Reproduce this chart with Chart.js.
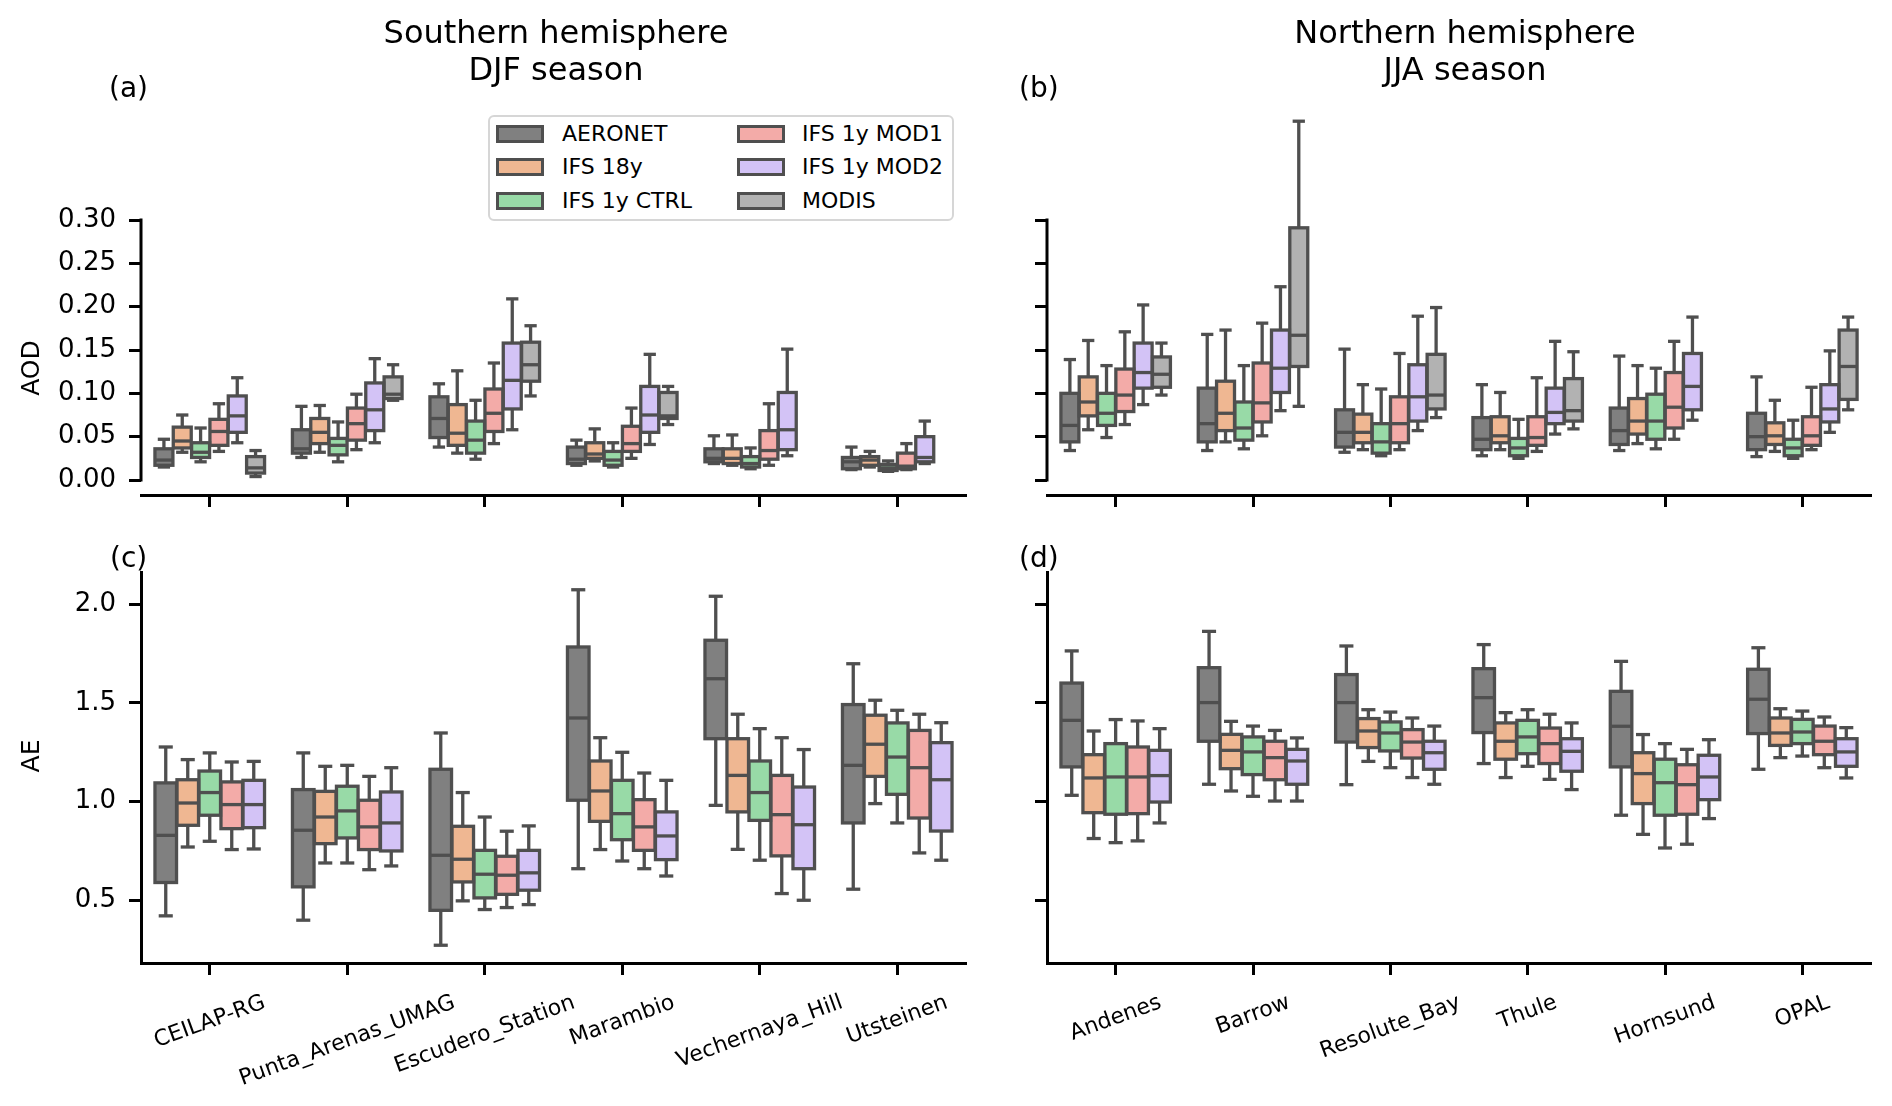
<!DOCTYPE html>
<html>
<head>
<meta charset="utf-8">
<script src="https://cdn.jsdelivr.net/npm/chart.js@4.4.1/dist/chart.umd.min.js"></script>
<style>
html,body{margin:0;padding:0;background:#fff;}
#fig{position:relative;width:1892px;height:1106px;overflow:hidden;font-family:"DejaVu Sans",sans-serif;color:#000;background:#fff;}
canvas.cv{position:absolute;}
.t{position:absolute;white-space:nowrap;line-height:1;}
.title{font-size:32px;text-align:center;line-height:37px;transform:translateX(-50%);}
.plab{font-size:28px;transform:translateY(-50%);}
.ylab{font-size:25px;transform:translate(-50%,-50%) rotate(-90deg);}
#legend{position:absolute;left:488px;top:115px;width:466px;height:106px;box-sizing:border-box;border:2px solid #d6d6d6;border-radius:6px;background:#fff;}
.lp{position:absolute;width:48px;height:18px;box-sizing:border-box;border:3px solid #4f4f4f;}
.lt{position:absolute;font-size:22px;line-height:1;white-space:nowrap;transform:translateY(-50%);}
</style>
</head>
<body>
<div id="fig">
  <canvas id="ca" class="cv" width="1000" height="540" style="left:0;top:0;width:1000px;height:540px"></canvas>
  <canvas id="cb" class="cv" width="892" height="540" style="left:1000px;top:0;width:892px;height:540px"></canvas>
  <canvas id="cc" class="cv" width="1000" height="566" style="left:0;top:540px;width:1000px;height:566px"></canvas>
  <canvas id="cd" class="cv" width="892" height="566" style="left:1000px;top:540px;width:892px;height:566px"></canvas>
  <div class="t title" style="left:556px;top:14px">Southern hemisphere<br>DJF season</div>
  <div class="t title" style="left:1465px;top:14px">Northern hemisphere<br>JJA season</div>
  <div class="t plab" style="left:109px;top:88px">(a)</div>
  <div class="t plab" style="left:1019px;top:88px">(b)</div>
  <div class="t plab" style="left:110px;top:558px">(c)</div>
  <div class="t plab" style="left:1019px;top:558px">(d)</div>
  <div class="t ylab" style="left:30px;top:368px">AOD</div>
  <div class="t ylab" style="left:30px;top:756px">AE</div>
  <div id="legend"></div>
</div>
<script>
// ---------------- categories / labels ----------------
const stationsSouth = ["CEILAP-RG", "Punta_Arenas_UMAG", "Escudero_Station", "Marambio", "Vechernaya_Hill", "Utsteinen"];
const stationsNorth = ["Andenes", "Barrow", "Resolute_Bay", "Thule", "Hornsund", "OPAL"];
const seriesNames = ["AERONET", "IFS 18y", "IFS 1y CTRL", "IFS 1y MOD1", "IFS 1y MOD2", "MODIS"];
const seriesColors = ["#808080", "#efb792", "#98daa7", "#f3aba8", "#d3c3f6", "#b2b2b2"];
const aodTicks = [0.00, 0.05, 0.10, 0.15, 0.20, 0.25, 0.30];
const aeTicks = [0.5, 1.0, 1.5, 2.0];

// each entry: [lower whisker, Q1, median, Q3, upper whisker]
// ---- (a) AOD, southern hemisphere, DJF ----
const aodSouthAERONET = [[0.015,0.017,0.023,0.036,0.047],[0.026,0.031,0.036,0.058,0.085],[0.038,0.049,0.071,0.096,0.111],[0.017,0.019,0.024,0.038,0.046],[0.019,0.021,0.025,0.036,0.051],[0.012,0.013,0.021,0.026,0.038]];
const aodSouthIFS18y = [[0.032,0.037,0.045,0.061,0.075],[0.032,0.042,0.055,0.071,0.086],[0.031,0.040,0.054,0.087,0.126],[0.022,0.025,0.030,0.043,0.059],[0.017,0.019,0.025,0.036,0.052],[0.015,0.017,0.023,0.027,0.033]];
const aodSouthCTRL = [[0.021,0.026,0.032,0.043,0.060],[0.021,0.029,0.040,0.048,0.067],[0.024,0.031,0.046,0.068,0.092],[0.015,0.017,0.023,0.033,0.043],[0.013,0.015,0.019,0.027,0.037],[0.010,0.011,0.014,0.018,0.022]];
const aodSouthMOD1 = [[0.033,0.040,0.056,0.070,0.088],[0.035,0.046,0.065,0.083,0.099],[0.042,0.056,0.077,0.105,0.135],[0.025,0.033,0.042,0.062,0.083],[0.017,0.024,0.034,0.057,0.088],[0.012,0.013,0.016,0.031,0.042]];
const aodSouthMOD2 = [[0.043,0.055,0.074,0.097,0.118],[0.043,0.057,0.081,0.112,0.140],[0.058,0.082,0.115,0.158,0.209],[0.041,0.055,0.075,0.108,0.145],[0.028,0.035,0.058,0.101,0.151],[0.019,0.021,0.026,0.050,0.068]];
const aodSouthMODIS = [[0.004,0.008,0.014,0.027,0.034],[0.092,0.094,0.099,0.119,0.133],[0.097,0.114,0.133,0.159,0.178],[0.064,0.071,0.074,0.101,0.108],null,null];

// ---- (b) AOD, northern hemisphere, JJA ----
const aodNorthAERONET = [[0.034,0.044,0.063,0.100,0.139],[0.034,0.044,0.065,0.106,0.168],[0.032,0.038,0.055,0.081,0.151],[0.028,0.035,0.047,0.072,0.110],[0.034,0.041,0.057,0.083,0.143],[0.027,0.035,0.050,0.077,0.119]];
const aodNorthIFS18y = [[0.058,0.074,0.090,0.119,0.161],[0.044,0.057,0.077,0.114,0.173],[0.035,0.043,0.055,0.076,0.110],[0.035,0.043,0.051,0.073,0.101],[0.042,0.053,0.068,0.094,0.132],[0.033,0.041,0.051,0.066,0.092]];
const aodNorthCTRL = [[0.049,0.063,0.077,0.100,0.132],[0.036,0.046,0.060,0.090,0.132],[0.028,0.031,0.044,0.065,0.105],[0.025,0.028,0.037,0.048,0.070],[0.036,0.047,0.068,0.099,0.129],[0.025,0.028,0.037,0.047,0.069]];
const aodNorthMOD1 = [[0.064,0.079,0.098,0.128,0.171],[0.051,0.067,0.089,0.135,0.181],[0.035,0.043,0.065,0.096,0.146],[0.033,0.040,0.049,0.073,0.118],[0.047,0.060,0.084,0.124,0.160],[0.035,0.040,0.051,0.073,0.107]];
const aodNorthMOD2 = [[0.087,0.106,0.124,0.158,0.202],[0.080,0.101,0.129,0.173,0.223],[0.057,0.068,0.096,0.133,0.189],[0.053,0.065,0.078,0.106,0.160],[0.069,0.081,0.108,0.146,0.188],[0.055,0.067,0.082,0.110,0.149]];
const aodNorthMODIS = [[0.098,0.107,0.122,0.142,0.158],[0.085,0.131,0.167,0.291,0.414],[0.072,0.082,0.098,0.145,0.199],[0.059,0.068,0.080,0.117,0.148],null,[0.081,0.093,0.131,0.173,0.188]];

// ---- (c) AE, southern hemisphere, DJF ----
const aeSouthAERONET = [[0.421,0.590,0.829,1.095,1.277],[0.399,0.568,0.855,1.061,1.247],[0.272,0.449,0.728,1.164,1.348],[0.660,1.007,1.424,1.784,2.074],[0.981,1.319,1.623,1.818,2.041],[0.556,0.892,1.184,1.492,1.699]];
const aeSouthIFS18y = [[0.770,0.880,0.993,1.111,1.213],[0.689,0.787,0.922,1.052,1.179],[0.497,0.593,0.708,0.875,1.046],[0.757,0.900,1.054,1.206,1.324],[0.758,0.948,1.133,1.319,1.443],[0.990,1.128,1.291,1.438,1.514]];
const aeSouthCTRL = [[0.799,0.931,1.046,1.155,1.247],[0.689,0.816,0.953,1.078,1.184],[0.453,0.512,0.632,0.753,0.922],[0.699,0.807,0.939,1.108,1.250],[0.703,0.905,1.046,1.206,1.370],[0.892,1.037,1.226,1.399,1.463]];
const aeSouthMOD1 = [[0.757,0.863,0.985,1.100,1.201],[0.655,0.757,0.872,1.007,1.128],[0.463,0.530,0.627,0.723,0.850],[0.660,0.753,0.872,1.010,1.145],[0.534,0.725,0.934,1.133,1.324],[0.740,0.917,1.172,1.361,1.443]];
const aeSouthMOD2 = [[0.760,0.868,0.985,1.108,1.204],[0.674,0.750,0.892,1.049,1.172],[0.478,0.551,0.639,0.753,0.877],[0.623,0.706,0.826,0.948,1.108],[0.500,0.660,0.883,1.074,1.264],[0.703,0.851,1.111,1.299,1.400]];

// ---- (d) AE, northern hemisphere, JJA ----
const aeNorthAERONET = [[1.032,1.176,1.412,1.601,1.764],[1.088,1.306,1.502,1.679,1.863],[1.086,1.302,1.502,1.644,1.789],[1.193,1.350,1.527,1.674,1.796],[0.931,1.176,1.382,1.559,1.711],[1.164,1.345,1.519,1.671,1.780]];
const aeNorthIFS18y = [[0.813,0.944,1.120,1.238,1.358],[1.054,1.167,1.260,1.341,1.407],[1.204,1.274,1.358,1.421,1.466],[1.122,1.215,1.306,1.399,1.451],[0.834,0.990,1.142,1.248,1.340],[1.223,1.285,1.348,1.424,1.471]];
const aeNorthCTRL = [[0.792,0.936,1.125,1.294,1.416],[1.027,1.137,1.252,1.328,1.383],[1.172,1.257,1.348,1.404,1.454],[1.179,1.243,1.328,1.412,1.466],[0.765,0.931,1.096,1.215,1.294],[1.231,1.294,1.353,1.417,1.459]];
const aeNorthMOD1 = [[0.801,0.939,1.125,1.277,1.409],[1.003,1.111,1.223,1.306,1.361],[1.122,1.221,1.302,1.365,1.424],[1.113,1.193,1.294,1.373,1.443],[0.784,0.936,1.086,1.187,1.265],[1.172,1.238,1.306,1.383,1.429]];
const aeNorthMOD2 = [[0.892,0.998,1.132,1.260,1.370],[1.003,1.088,1.206,1.265,1.323],[1.088,1.164,1.248,1.306,1.383],[1.061,1.154,1.255,1.319,1.399],[0.914,1.010,1.125,1.235,1.314],[1.120,1.179,1.252,1.319,1.375]];

// ---------------- drawing helpers ----------------
const EDGE = "#4f4f4f";
const FONT = '"DejaVu Sans", sans-serif';

const boxPlugin = {
  id: 'boxWhiskers',
  afterDatasetsDraw(chart) {
    const ctx = chart.ctx;
    const ys = chart.scales.y;
    const seg = (x1, y1, x2, y2) => { ctx.beginPath(); ctx.moveTo(x1, y1); ctx.lineTo(x2, y2); ctx.stroke(); };
    chart.data.datasets.forEach((ds, di) => {
      const meta = chart.getDatasetMeta(di);
      meta.data.forEach((bar, i) => {
        const st = ds.stats[i];
        if (!st) return;
        const p = bar.getProps(['x', 'width'], true);
        const x = p.x, w = p.width, h = w / 2;
        const lo = ys.getPixelForValue(st[0]);
        const q1 = ys.getPixelForValue(st[1]);
        const md = ys.getPixelForValue(st[2]);
        const q3 = ys.getPixelForValue(st[3]);
        const hi = ys.getPixelForValue(st[4]);
        ctx.save();
        ctx.strokeStyle = EDGE;
        ctx.lineWidth = 3.3;
        ctx.lineCap = 'butt';
        seg(x, q3, x, hi);
        seg(x, q1, x, lo);
        ctx.lineCap = 'square';
        seg(x - h / 2, hi, x + h / 2, hi);
        seg(x - h / 2, lo, x + h / 2, lo);
        ctx.lineCap = 'butt';
        ctx.lineJoin = 'miter';
        ctx.strokeRect(x - h, q3, w, q1 - q3);
        seg(x - h, md, x + h, md);
        ctx.restore();
      });
    });
  }
};

const trimSpinePlugin = {
  id: 'trimSpine',
  afterDraw(chart, args, opts) {
    if (!opts || !opts.show) return;
    const ctx = chart.ctx, ys = chart.scales.y;
    const x = chart.chartArea.left;
    const y0 = ys.getPixelForValue(opts.from), y1 = ys.getPixelForValue(opts.to);
    ctx.save();
    ctx.strokeStyle = '#000';
    ctx.lineWidth = 3;
    ctx.lineCap = 'square';
    ctx.beginPath(); ctx.moveTo(x, y0); ctx.lineTo(x, y1); ctx.stroke();
    ctx.restore();
  }
};

const rotLabelPlugin = {
  id: 'rotLabels',
  afterDraw(chart, args, opts) {
    if (!opts || !opts.show) return;
    const ctx = chart.ctx, xs = chart.scales.x;
    const th = opts.angle * Math.PI / 180;
    const size = opts.size;
    ctx.save();
    ctx.font = size + 'px ' + FONT;
    ctx.fillStyle = '#000';
    ctx.textAlign = 'center';
    ctx.textBaseline = 'middle';
    chart.data.labels.forEach((lab, i) => {
      const x = xs.getPixelForTick(i);
      const w = ctx.measureText(lab).width;
      const hgt = size * 1.16;
      const H = w * Math.sin(th) + hgt * Math.cos(th);
      const cy = chart.chartArea.bottom + opts.gap + H / 2;
      ctx.save();
      ctx.translate(x, cy);
      ctx.rotate(-th);
      ctx.fillText(lab, 0, 0);
      ctx.restore();
    });
    ctx.restore();
  }
};

function makePanel(canvasId, stations, seriesList, cfg) {
  const datasets = seriesList.map((s, i) => ({
    label: seriesNames[i],
    data: s.map(v => v ? [v[1], v[3]] : null),
    stats: s,
    backgroundColor: seriesColors[i],
    borderWidth: 0,
    categoryPercentage: 0.8,
    barPercentage: 0.98
  }));
  return new Chart(document.getElementById(canvasId), {
    type: 'bar',
    data: { labels: stations, datasets },
    options: {
      responsive: false,
      animation: false,
      devicePixelRatio: 1,
      layout: { padding: { left: 0, right: cfg.padRight, top: cfg.padTop, bottom: 0 } },
      plugins: {
        legend: { display: false },
        tooltip: { enabled: false },
        trimSpine: { show: !cfg.fullSpine, from: cfg.yticks[0], to: cfg.yticks[cfg.yticks.length - 1] },
        rotLabels: { show: cfg.xLabels, angle: 20, size: 22, gap: 27 }
      },
      scales: {
        x: {
          type: 'category',
          offset: true,
          grid: { offset: false, drawOnChartArea: false, drawTicks: true, tickLength: 12, tickWidth: 3, tickColor: '#000' },
          border: { display: true, width: 3, color: '#000' },
          ticks: { display: false },
          afterFit(s) { s.height = cfg.xH; }
        },
        y: {
          type: 'linear',
          min: cfg.ymin,
          max: cfg.ymax,
          afterBuildTicks(s) { s.ticks = cfg.yticks.map(v => ({ value: v })); },
          grid: { drawOnChartArea: false, drawTicks: true, tickLength: 12, tickWidth: 3, tickColor: '#000' },
          border: { display: cfg.fullSpine, width: 3, color: '#000' },
          ticks: {
            display: cfg.yLabels,
            color: '#000',
            padding: 13,
            font: { family: FONT, size: 26 },
            callback: v => Number(v).toFixed(cfg.dec)
          },
          afterFit(s) { s.width = cfg.yW; }
        }
      }
    },
    plugins: [boxPlugin, trimSpinePlugin, rotLabelPlugin]
  });
}

makePanel('ca', stationsSouth,
  [aodSouthAERONET, aodSouthIFS18y, aodSouthCTRL, aodSouthMOD1, aodSouthMOD2, aodSouthMODIS],
  { yW: 141, padRight: 34, padTop: 103, xH: 45, ymin: -0.0173, ymax: 0.435, yticks: aodTicks, dec: 2, yLabels: true, fullSpine: false, xLabels: false });

makePanel('cb', stationsNorth,
  [aodNorthAERONET, aodNorthIFS18y, aodNorthCTRL, aodNorthMOD1, aodNorthMOD2, aodNorthMODIS],
  { yW: 47, padRight: 21, padTop: 103, xH: 45, ymin: -0.0173, ymax: 0.435, yticks: aodTicks, dec: 2, yLabels: false, fullSpine: false, xLabels: false });

makePanel('cc', stationsSouth,
  [aeSouthAERONET, aeSouthIFS18y, aeSouthCTRL, aeSouthMOD1, aeSouthMOD2],
  { yW: 141, padRight: 34, padTop: 32, xH: 143, ymin: 0.182, ymax: 2.164, yticks: aeTicks, dec: 1, yLabels: true, fullSpine: true, xLabels: true });

makePanel('cd', stationsNorth,
  [aeNorthAERONET, aeNorthIFS18y, aeNorthCTRL, aeNorthMOD1, aeNorthMOD2],
  { yW: 47, padRight: 21, padTop: 32, xH: 143, ymin: 0.182, ymax: 2.164, yticks: aeTicks, dec: 1, yLabels: false, fullSpine: true, xLabels: true });

// ---------------- legend (2 columns x 3 rows) ----------------
(function buildLegend() {
  const lg = document.getElementById('legend');
  const rowsY = [17, 50, 84];
  const colPatchX = [6, 247];
  const colTextX = [72, 312];
  seriesNames.forEach((name, i) => {
    const col = Math.floor(i / 3), row = i % 3;
    const p = document.createElement('div');
    p.className = 'lp';
    p.style.left = colPatchX[col] + 'px';
    p.style.top = (rowsY[row] - 9) + 'px';
    p.style.background = seriesColors[i];
    lg.appendChild(p);
    const t = document.createElement('div');
    t.className = 'lt';
    t.style.left = colTextX[col] + 'px';
    t.style.top = rowsY[row] + 'px';
    t.textContent = name;
    lg.appendChild(t);
  });
})();
</script>
</body>
</html>
